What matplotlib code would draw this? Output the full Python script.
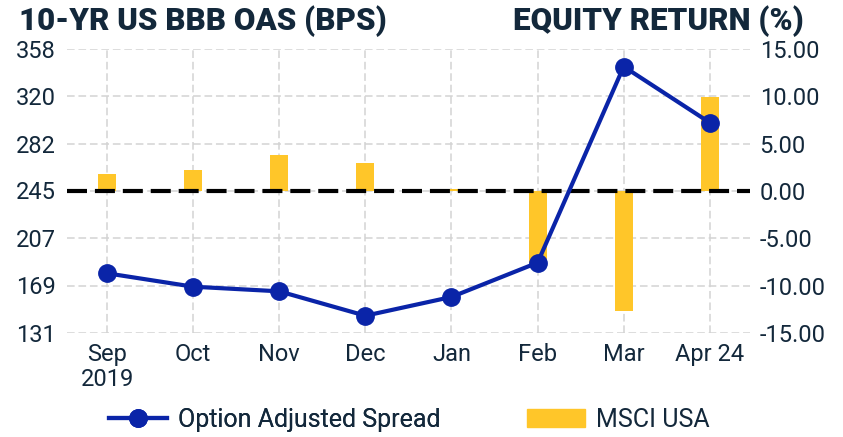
import matplotlib
matplotlib.use("Agg")
import matplotlib.pyplot as plt
from matplotlib.lines import Line2D
from matplotlib.patches import Patch
import numpy as np

plt.rcParams['font.family'] = ['Roboto', 'DejaVu Sans']

months = ["Sep\n2019", "Oct", "Nov", "Dec", "Jan", "Feb", "Mar", "Apr 24"]
oas = [178.7, 168.0, 164.3, 144.8, 159.8, 187.2, 343.9, 299.1]
msci = [1.8, 2.2, 3.8, 3.0, 0.2, -7.6, -12.7, 9.9]
left_ticks = [131, 169, 207, 245, 282, 320, 358]
right_ticks = [-15, -10, -5, 0, 5, 10, 15]

text_c = "#13283b"
blue = "#0A24A8"
gold = "#FFC629"
grid_c = "#d3d3d3"

fig = plt.figure(figsize=(8.43, 4.37), dpi=100)
ax = fig.add_axes([0.0795, 0.238, 0.810, 0.650])
ax2 = ax.twinx()

x = np.arange(len(months))

ax2.set_xlim(-0.465, 7.465)
for xi in x:
    ax2.axvline(xi, color=grid_c, ls=(0, (5, 2.5)), lw=1.1, zorder=0)
for yt in right_ticks:
    ax2.axhline(yt, color=grid_c, ls=(0, (5, 2.5)), lw=1.1, zorder=0)

ax2.bar(x, msci, width=0.21, color=gold, zorder=2)
ax2.set_ylim(-15, 15)
ax2.set_yticks(right_ticks)
ax2.set_yticklabels([f"{v:.2f}" for v in right_ticks])
ax2.axhline(0, color="black", lw=3, ls=(0, (4.8, 1.9)), zorder=3)

ax.set_zorder(ax2.get_zorder() + 1)
ax.patch.set_visible(False)
ax.plot(x, oas, color=blue, lw=3, marker="o", ms=12.5, zorder=4)
ax.set_ylim(131, 358)
ax.set_yticks(left_ticks)
ax.set_xlim(-0.465, 7.465)
ax.set_xticks(x)
ax.set_xticklabels(months, linespacing=1.15)

for a in (ax, ax2):
    for s in a.spines.values():
        s.set_visible(False)
    a.tick_params(length=0, labelsize=17, colors=text_c, pad=7)
ax.tick_params(axis='y', pad=8)
ax.tick_params(axis='x', pad=7)

fig.text(0.022, 0.931, "10-YR US BBB OAS (BPS)", fontsize=22.5, fontweight="black",
         color=text_c, va="baseline", ha="left")
fig.text(0.954, 0.931, "EQUITY RETURN (%)", fontsize=22.5, fontweight="black",
         color=text_c, va="baseline", ha="right")

leg1 = fig.legend([Line2D([0], [0], color=blue, lw=3, marker="o", ms=12.5)],
                  ["Option Adjusted Spread"], loc="center left",
                  bbox_to_anchor=(109 / 843, 0.039), frameon=False, fontsize=18,
                  labelcolor=text_c, handlelength=2.3, handleheight=0.75,
                  handletextpad=0.45, borderpad=0, borderaxespad=0)
fig.legend([Patch(color=gold)], ["MSCI USA"], loc="center left",
           bbox_to_anchor=(527 / 843, 0.039), frameon=False, fontsize=18,
           labelcolor=text_c, handlelength=2.3, handleheight=0.75,
           handletextpad=0.45, borderpad=0, borderaxespad=0)
fig.add_artist(leg1)

fig.savefig("out.png", dpi=100)
